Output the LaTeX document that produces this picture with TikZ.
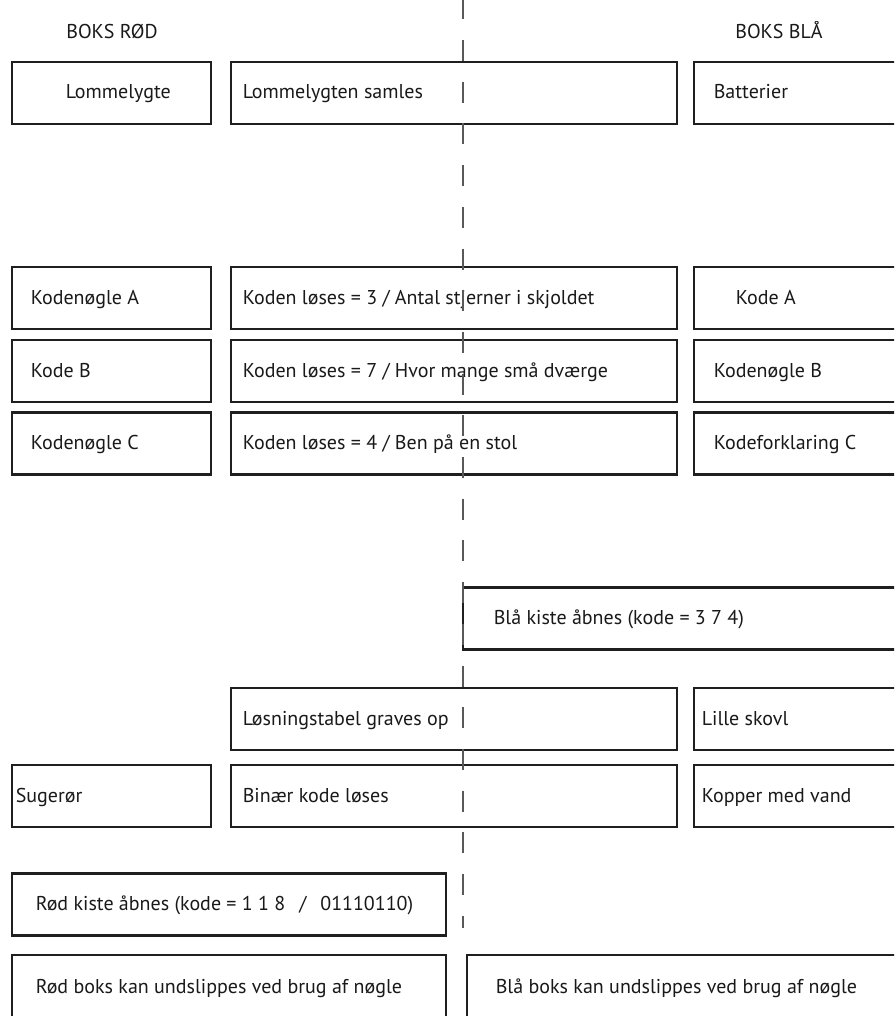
\documentclass[tikz,border=0pt]{standalone}
\usepackage{fontspec}
\setmainfont{PT Sans}
\usetikzlibrary{positioning}

\tikzset{
	boks/.style={draw=black!88, line width=2.8pt, rectangle, minimum height=62pt, inner sep=0pt},
	tekst/.style={inner sep=0pt, anchor=west, text=black!90, text height=13pt, text depth=4pt, yshift=-1.5pt, font=\fontsize{20}{24}\selectfont},
	skillelinje/.style={draw=black!65, line width=1.5pt, dash pattern=on 21pt off 20.7pt},
}

\begin{document}
\begin{tikzpicture}[x=1pt, y=-1pt]
		\clip (0,0) rectangle (894,1016);
		
		% overskrifter
		\node[tekst, anchor=center] (hdrrod) at (112,33) {BOKS RØD};
		\node[tekst, anchor=center] (hdrbla) at (779,33) {BOKS BLÅ};
		
		% raekke 1
		\node[boks, minimum width=199pt] (lygte) at (111.5,93) {};
		\node[boks, minimum width=446pt] (samles) at (454,93) {};
		\node[boks, minimum width=240pt] (batt) at (814,93) {};
		\node[tekst, right=55pt of lygte.west] (lygte-t) {Lommelygte};
		\node[tekst, right=13pt of samles.west] (samles-t) {Lommelygten samles};
		\node[tekst, right=21pt of batt.west] (batt-t) {Batterier};
		
		% koder
		\node[boks, minimum width=199pt] (kna) at (111.5,298) {};
		\node[boks, minimum width=446pt] (kode3) at (454,298) {};
		\node[boks, minimum width=240pt] (kodea) at (814,298) {};
		\node[tekst, right=20pt of kna.west] (kna-t) {Kodenøgle A};
		\node[tekst, right=13pt of kode3.west] (kode3-t) {Koden løses = 3 / Antal stjerner i skjoldet};
		\node[tekst, right=43pt of kodea.west] (kodea-t) {Kode A};
		
		\node[boks, minimum width=199pt] (kodeb) at (111.5,371) {};
		\node[boks, minimum width=446pt] (kode7) at (454,371) {};
		\node[boks, minimum width=240pt] (kngb) at (814,371) {};
		\node[tekst, right=20pt of kodeb.west] (kodeb-t) {Kode B};
		\node[tekst, right=13pt of kode7.west] (kode7-t) {Koden løses = 7 / Hvor mange små dværge};
		\node[tekst, right=21pt of kngb.west] (kngb-t) {Kodenøgle B};
		
		\node[boks, minimum width=199pt] (kngc) at (111.5,443.5) {};
		\node[boks, minimum width=446pt] (kode4) at (454,443.5) {};
		\node[boks, minimum width=240pt] (forkc) at (814,443.5) {};
		\node[tekst, right=20pt of kngc.west] (kngc-t) {Kodenøgle C};
		\node[tekst, right=13pt of kode4.west] (kode4-t) {Koden løses = 4 / Ben på en stol};
		\node[tekst, right=21pt of forkc.west] (forkc-t) {Kodeforklaring C};
		
		% blaa kiste
		\node[boks, minimum width=470pt] (blaakiste) at (698,618.5) {};
		\node[tekst, right=32pt of blaakiste.west] (blaakiste-t) {Blå kiste åbnes (kode = 3 7 4)};
		
		% binaer kode
		\node[boks, minimum width=446pt] (tabel) at (454,719) {};
		\node[boks, minimum width=240pt] (skovl) at (814,719) {};
		\node[tekst, right=13pt of tabel.west] (tabel-t) {Løsningstabel graves op};
		\node[tekst, right=9pt of skovl.west] (skovl-t) {Lille skovl};
		
		\node[boks, minimum width=199pt] (suger) at (111.5,796) {};
		\node[boks, minimum width=446pt] (binaer) at (454,796) {};
		\node[boks, minimum width=240pt] (kopper) at (814,796) {};
		\node[tekst, right=5pt of suger.west] (suger-t) {Sugerør};
		\node[tekst, right=13pt of binaer.west] (binaer-t) {Binær kode løses};
		\node[tekst, right=9pt of kopper.west] (kopper-t) {Kopper med vand};
		
		% roed kiste og udgang
		\node[boks, minimum width=434pt] (roedkiste) at (229,904.5) {};
		\node[tekst, right=25pt of roedkiste.west] (roedkiste-t) {Rød kiste åbnes (kode = 1 1 8\hspace{14pt}/\hspace{14pt}01110110)};
		
		\node[boks, minimum width=434pt, minimum height=64pt] (roedboks) at (229,987) {};
		\node[boks, minimum width=470pt, minimum height=64pt] (blaaboks) at (702,987) {};
		\node[tekst, right=25pt of roedboks.west] (roedboks-t) {Rød boks kan undslippes ved brug af nøgle};
		\node[tekst, right=30pt of blaaboks.west] (blaaboks-t) {Blå boks kan undslippes ved brug af nøgle};
		
		% midterlinje
		\coordinate (top) at (463,-1.7);
		\coordinate (bund) at (463,928);
		\draw[skillelinje] (top) -- (bund);
		
	\end{tikzpicture}
\end{document}
